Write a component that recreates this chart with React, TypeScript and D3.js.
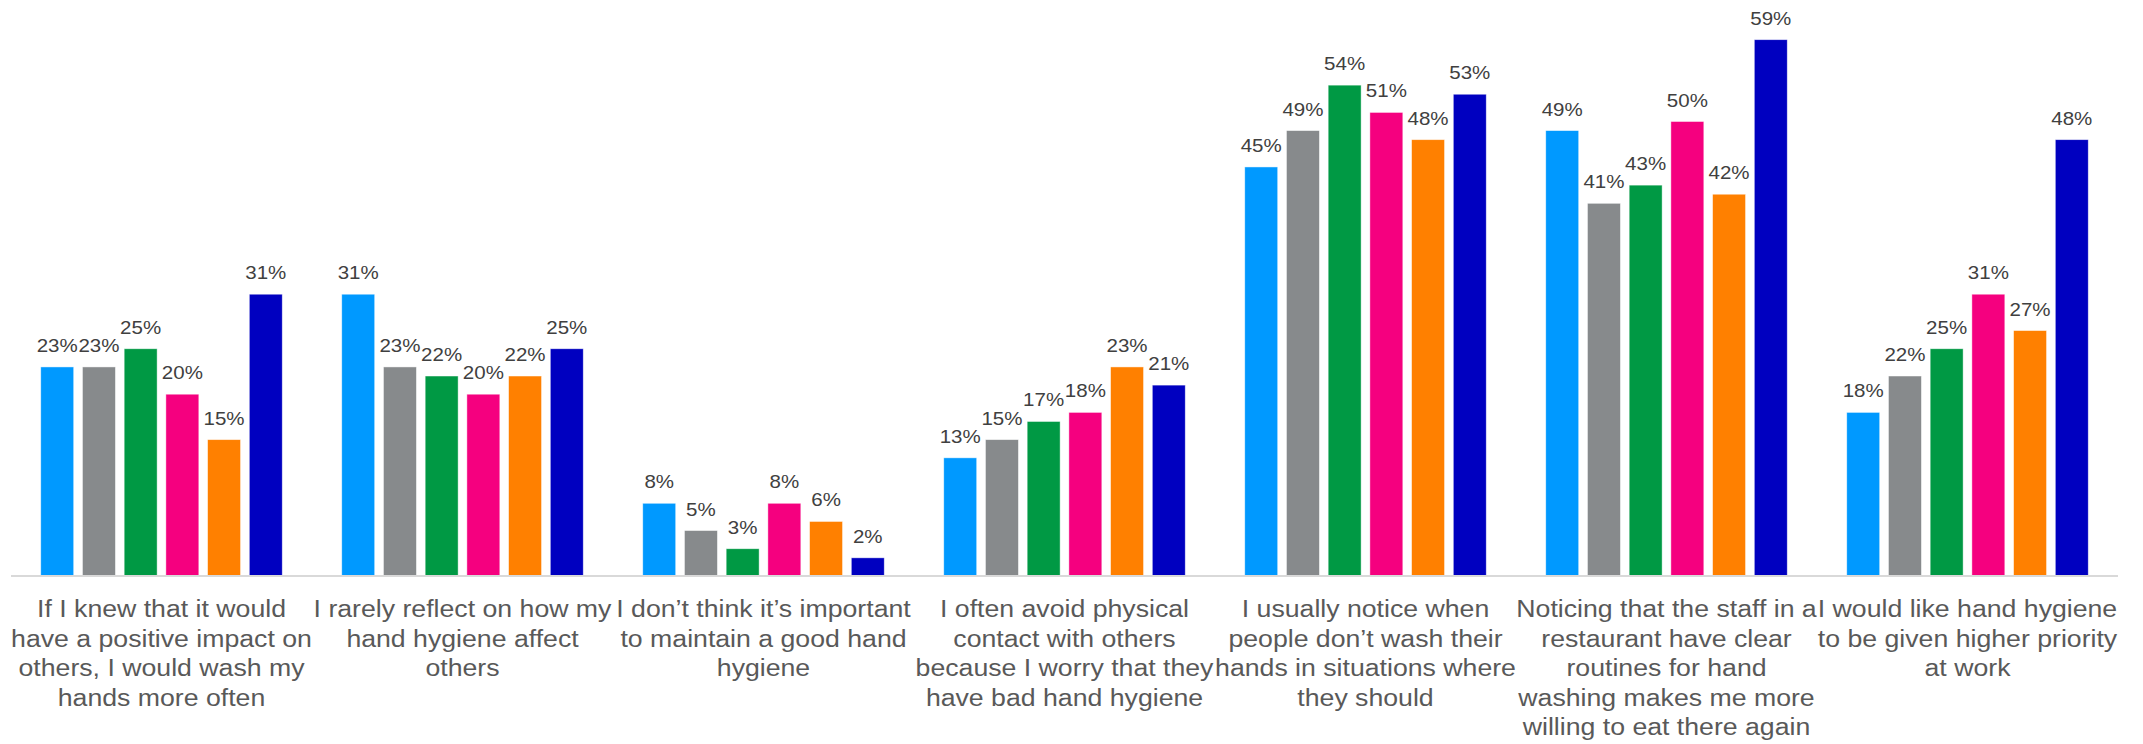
import React from "react";
import * as d3 from "d3";

const categories: string[][] = [
  ["If I knew that it would", "have a positive impact on", "others, I would wash my", "hands more often"],
  ["I rarely reflect on how my", "hand hygiene affect", "others"],
  ["I don\u2019t think it\u2019s important", "to maintain a good hand", "hygiene"],
  ["I often avoid physical", "contact with others", "because I worry that they", "have bad hand hygiene"],
  ["I usually notice when", "people don\u2019t wash their", "hands in situations where", "they should"],
  ["Noticing that the staff in a", "restaurant have clear", "routines for hand", "washing makes me more", "willing to eat there again"],
  ["I would like hand hygiene", "to be given higher priority", "at work"],
];

const seriesNames = ["S1", "S2", "S3", "S4", "S5", "S6"];
const seriesColors = ["#0099ff", "#878a8c", "#009944", "#f5007f", "#ff8000", "#0000c0"];

const s1 = [23, 31, 8, 13, 45, 49, 18];
const s2 = [23, 23, 5, 15, 49, 41, 22];
const s3 = [25, 22, 3, 17, 54, 43, 25];
const s4 = [20, 20, 8, 18, 51, 50, 31];
const s5 = [15, 22, 6, 23, 48, 42, 27];
const s6 = [31, 25, 2, 21, 53, 59, 48];
const seriesValues = [s1, s2, s3, s4, s5, s6];

const W = 2143;
const H = 744;
const SX = 1.16;

export default function App() {
  const x0 = d3
    .scaleBand<number>()
    .domain(categories.map((_, i) => i))
    .range([11, 2118])
    .paddingInner(0)
    .paddingOuter(0);
  const bw0 = x0.bandwidth();
  const x1 = d3
    .scaleBand<string>()
    .domain(seriesNames)
    .range([29.75, bw0 - 29.75])
    .paddingInner(0.21)
    .paddingOuter(0);
  const y = d3.scaleLinear().domain([0, 60]).range([576, 576 - 60 * 9.09]);

  return (
    <svg
      width={W}
      height={H}
      style={{ position: "absolute", left: 0, top: 0, background: "#fff" }}
      fontFamily="'Liberation Sans', Arial, sans-serif"
    >
      {categories.map((lines, ci) => (
        <g key={ci} transform={`translate(${x0(ci)},0)`}>
          {seriesNames.map((s, si) => {
            const v = seriesValues[si][ci];
            const bx = x1(s)!;
            const top = y(v);
            return (
              <g key={s}>
                <rect
                  x={bx}
                  y={top}
                  width={x1.bandwidth()}
                  height={y(0) - top}
                  fill={seriesColors[si]}
                  stroke="#ffffff"
                  strokeOpacity={0.6}
                  strokeWidth={0.75}
                />
                <text
                  transform={`translate(${bx + x1.bandwidth() / 2},${top - 15}) scale(${SX},1)`}
                  textAnchor="middle"
                  fontSize={17.7}
                  fill="#404040"
                >
                  {`${v}%`}
                </text>
              </g>
            );
          })}
          <g transform={`translate(${bw0 / 2},0) scale(${SX},1)`}>
            <text textAnchor="middle" fontSize={23} fill="#595959">
              {lines.map((ln, li) => (
                <tspan key={li} x={0} y={617 + li * 29.6}>
                  {ln}
                </tspan>
              ))}
            </text>
          </g>
        </g>
      ))}
      <line x1={11} x2={2118} y1={y(0)} y2={y(0)} stroke="#d9d9d9" strokeWidth={2} />
    </svg>
  );
}
